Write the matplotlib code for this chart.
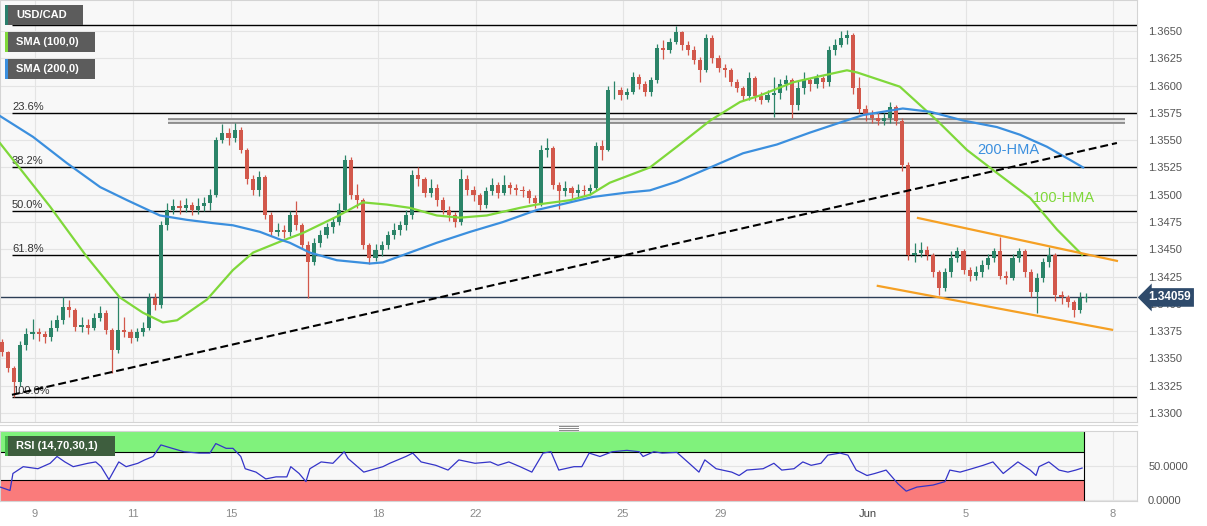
import numpy as np
import matplotlib.pyplot as plt
from matplotlib.patches import Rectangle
from matplotlib.lines import Line2D
from matplotlib.transforms import blended_transform_factory

plt.rcParams['font.family'] = ['Liberation Sans', 'DejaVu Sans']

W, H = 1207, 526

# x axis is in trading days, 0 = May 9 (weekends removed)
first_day = -0.675
candle_step = 0.125  # 3-hour candles
first_open = 1.3365

closes = [1.3356, 1.3341, 1.3328, 1.3362, 1.3372, 1.3374, 1.3372, 1.3370, 1.3378, 1.3385,
          1.3397, 1.3394, 1.3379, 1.3381, 1.3378, 1.3387, 1.3392, 1.3376, 1.3358, 1.3376,
          1.3374, 1.3369, 1.3374, 1.3378, 1.3405, 1.3399, 1.3472, 1.3486, 1.3490, 1.3488,
          1.3491, 1.3486, 1.3490, 1.3492, 1.3500, 1.3550, 1.3557, 1.3552, 1.3559, 1.3541,
          1.3514, 1.3504, 1.3516, 1.3481, 1.3466, 1.3468, 1.3466, 1.3481, 1.3472, 1.3454,
          1.3438, 1.3456, 1.3463, 1.3470, 1.3475, 1.3486, 1.3532, 1.3500, 1.3495, 1.3454,
          1.3442, 1.3449, 1.3454, 1.3463, 1.3468, 1.3472, 1.3481, 1.3518, 1.3514, 1.3502,
          1.3506, 1.3495, 1.3486, 1.3481, 1.3475, 1.3514, 1.3504, 1.3500, 1.3491, 1.3503,
          1.3509, 1.3502, 1.3509, 1.3506, 1.3504, 1.3503, 1.3497, 1.3492, 1.3541, 1.3543,
          1.3509, 1.3503, 1.3506, 1.3502, 1.3504, 1.3503, 1.3506, 1.3545, 1.3541, 1.3596,
          1.3596, 1.3591, 1.3594, 1.3608, 1.3601, 1.3594, 1.3605, 1.3634, 1.3633, 1.3640,
          1.3649, 1.3637, 1.3633, 1.3623, 1.3614, 1.3644, 1.3625, 1.3616, 1.3614, 1.3603,
          1.3598, 1.3590, 1.3607, 1.3590, 1.3587, 1.3591, 1.3593, 1.3601, 1.3605, 1.3582,
          1.3598, 1.3605, 1.3601, 1.3607, 1.3603, 1.3633, 1.3637, 1.3644, 1.3646, 1.3598,
          1.3579, 1.3573, 1.3570, 1.3568, 1.3570, 1.3580, 1.3568, 1.3527, 1.3445, 1.3447,
          1.3449, 1.3445, 1.3429, 1.3415, 1.3429, 1.3442, 1.3448, 1.3431, 1.3426, 1.3429,
          1.3436, 1.3442, 1.3448, 1.3426, 1.3424, 1.3442, 1.3448, 1.3429, 1.3411, 1.3424,
          1.3438, 1.3445, 1.3408, 1.3406, 1.3402, 1.3394, 1.3405, 1.34059]

highs = [1.3368, 1.3357, 1.3343, 1.3366, 1.3378, 1.3386, 1.3378, 1.3375, 1.3385, 1.3390,
         1.3406, 1.3404, 1.3396, 1.3388, 1.3386, 1.3392, 1.3398, 1.3394, 1.3378, 1.3407,
         1.3388, 1.3377, 1.3378, 1.3383, 1.3410, 1.3410, 1.3476, 1.3492, 1.3496, 1.3495,
         1.3497, 1.3493, 1.3497, 1.3498, 1.3505, 1.3553, 1.3565, 1.3561, 1.3566, 1.3562,
         1.3543, 1.3518, 1.3522, 1.3518, 1.3484, 1.3474, 1.3472, 1.3485, 1.3494, 1.3474,
         1.3458, 1.3460, 1.3468, 1.3474, 1.3480, 1.3492, 1.3536, 1.3535, 1.3510, 1.3497,
         1.3456, 1.3455, 1.3458, 1.3467, 1.3474, 1.3476, 1.3486, 1.3523, 1.3525, 1.3516,
         1.3514, 1.3510, 1.3498, 1.3490, 1.3484, 1.3524, 1.3518, 1.3508, 1.3502, 1.3507,
         1.3515, 1.3512, 1.3518, 1.3512, 1.3510, 1.3508, 1.3505, 1.3500, 1.3546, 1.3552,
         1.3545, 1.3512, 1.3513, 1.3508, 1.3510, 1.3509, 1.3510, 1.3548, 1.3550, 1.3600,
         1.3604, 1.3599, 1.3598, 1.3612, 1.3611, 1.3604, 1.3608, 1.3638, 1.3642, 1.3644,
         1.3655, 1.3650, 1.3641, 1.3636, 1.3626, 1.3647, 1.3646, 1.3628, 1.3620, 1.3616,
         1.3606, 1.3600, 1.3612, 1.3609, 1.3594, 1.3596, 1.3608, 1.3606, 1.3610, 1.3607,
         1.3604, 1.3612, 1.3607, 1.3611, 1.3609, 1.3636, 1.3643, 1.3650, 1.3651, 1.3648,
         1.3608, 1.3582, 1.3578, 1.3576, 1.3575, 1.3585, 1.3582, 1.3570, 1.3530, 1.3456,
         1.3457, 1.3453, 1.3447, 1.3431, 1.3433, 1.3448, 1.3452, 1.3450, 1.3434, 1.3435,
         1.3440, 1.3446, 1.3451, 1.3461, 1.3430, 1.3446, 1.3451, 1.3450, 1.3432, 1.3428,
         1.3442, 1.3452, 1.3447, 1.3412, 1.3408, 1.3404, 1.3411, 1.3410]

lows = [1.3352, 1.3338, 1.3315, 1.3325, 1.3358, 1.3368, 1.3366, 1.3364, 1.3366, 1.3375,
        1.3382, 1.3388, 1.3375, 1.3374, 1.3372, 1.3376, 1.3384, 1.3372, 1.3337, 1.3355,
        1.3370, 1.3364, 1.3366, 1.3371, 1.3376, 1.3394, 1.3396, 1.3468, 1.3482, 1.3482,
        1.3484, 1.3481, 1.3482, 1.3485, 1.3486, 1.3498, 1.3547, 1.3546, 1.3548, 1.3538,
        1.3510, 1.3500, 1.3499, 1.3478, 1.3462, 1.3462, 1.3460, 1.3462, 1.3468, 1.3450,
        1.3405, 1.3436, 1.3452, 1.3460, 1.3465, 1.3472, 1.3484, 1.3496, 1.3488, 1.3450,
        1.3437, 1.3439, 1.3444, 1.3450, 1.3459, 1.3463, 1.3468, 1.3478, 1.3508, 1.3498,
        1.3498, 1.3490, 1.3482, 1.3476, 1.3470, 1.3472, 1.3500, 1.3494, 1.3486, 1.3488,
        1.3500, 1.3497, 1.3500, 1.3501, 1.3500, 1.3498, 1.3492, 1.3488, 1.3490, 1.3535,
        1.3505, 1.3487, 1.3499, 1.3497, 1.3498, 1.3499, 1.3500, 1.3504, 1.3532, 1.3540,
        1.3588, 1.3587, 1.3588, 1.3592, 1.3597, 1.3590, 1.3590, 1.3602, 1.3624, 1.3630,
        1.3638, 1.3633, 1.3628, 1.3620, 1.3603, 1.3612, 1.3621, 1.3612, 1.3608, 1.3600,
        1.3594, 1.3586, 1.3587, 1.3586, 1.3583, 1.3585, 1.3571, 1.3588, 1.3596, 1.3570,
        1.3578, 1.3592, 1.3595, 1.3598, 1.3598, 1.3600, 1.3628, 1.3635, 1.3638, 1.3592,
        1.3575, 1.3568, 1.3566, 1.3564, 1.3564, 1.3566, 1.3564, 1.3522, 1.3440, 1.3438,
        1.3443, 1.3440, 1.3425, 1.3408, 1.3412, 1.3425, 1.3438, 1.3427, 1.3421, 1.3422,
        1.3425, 1.3432, 1.3438, 1.3423, 1.3418, 1.3422, 1.3438, 1.3425, 1.3406, 1.3392,
        1.3420, 1.3434, 1.3403, 1.3400, 1.3397, 1.3388, 1.3392, 1.3402]

hma100_days = [-0.71, 0.31, 1.06, 1.73, 2.20, 2.61, 2.90, 3.51, 4.04, 4.45, 5.00, 5.47,
               6.16, 6.69, 7.18, 7.65, 8.20, 8.67, 9.22, 9.90, 10.24, 10.92, 11.33, 11.73,
               12.55, 13.10, 13.78, 14.39, 14.80, 15.47, 15.96, 16.57, 16.78, 17.65, 18.41,
               19.02, 19.63, 20.31, 20.86, 21.37]
hma100 = [1.3547, 1.3489, 1.3443, 1.3406, 1.3392, 1.3383, 1.3385, 1.3404, 1.3431, 1.3447,
          1.3457, 1.3465, 1.3480, 1.3493, 1.3491, 1.3488, 1.3481, 1.3479, 1.3481, 1.3488,
          1.3491, 1.3495, 1.3500, 1.3511, 1.3525, 1.3544, 1.3568, 1.3585, 1.3591, 1.3603,
          1.3608, 1.3614, 1.3612, 1.3599, 1.3568, 1.3541, 1.3520, 1.3497, 1.3468, 1.3445]

hma200_days = [-0.71, -0.04, 0.65, 1.33, 1.88, 2.55, 3.10, 3.63, 4.04, 4.59, 5.00, 5.20,
               5.61, 6.16, 6.84, 7.10, 7.65, 8.20, 8.88, 9.55, 10.24, 10.92, 11.39, 12.08,
               12.55, 13.10, 13.78, 14.45, 15.14, 15.82, 16.49, 16.90, 17.71, 18.27, 18.94,
               19.63, 20.10, 20.65, 21.12, 21.39]
hma200 = [1.3572, 1.3553, 1.3529, 1.3507, 1.3495, 1.3481, 1.3477, 1.3474, 1.3472, 1.3466,
          1.3459, 1.3456, 1.3447, 1.3440, 1.3437, 1.3438, 1.3447, 1.3456, 1.3466, 1.3475,
          1.3486, 1.3493, 1.3498, 1.3502, 1.3504, 1.3512, 1.3525, 1.3538, 1.3546, 1.3557,
          1.3567, 1.3573, 1.3579, 1.3576, 1.3568, 1.3562, 1.3555, 1.3544, 1.3532, 1.3525]

rsi_days = [-0.71, -0.51, -0.45, -0.24, 0.06, 0.31, 0.45, 0.61, 0.78, 1.08, 1.24, 1.35,
            1.51, 1.71, 1.86, 2.10, 2.24, 2.41, 2.57, 2.80, 3.04, 3.35, 3.57, 3.69, 3.90,
            4.04, 4.20, 4.29, 4.51, 4.71, 4.92, 5.14, 5.22, 5.39, 5.53, 5.61, 5.84, 6.08,
            6.31, 6.39, 6.71, 7.10, 7.24, 7.57, 7.71, 7.88, 8.18, 8.43, 8.65, 8.98, 9.29,
            9.45, 9.67, 9.90, 10.14, 10.37, 10.53, 10.69, 11.00, 11.16, 11.31, 11.53, 11.78,
            12.08, 12.33, 12.41, 12.63, 12.80, 13.10, 13.35, 13.55, 13.67, 13.90, 14.22,
            14.37, 14.53, 14.86, 15.08, 15.24, 15.49, 15.67, 15.84, 16.04, 16.18, 16.43,
            16.59, 16.76, 16.98, 17.14, 17.37, 17.61, 17.78, 18.00, 18.33, 18.57, 18.67,
            18.88, 19.12, 19.35, 19.55, 19.76, 20.06, 20.31, 20.43, 20.49, 20.69, 20.90,
            21.08, 21.24, 21.37]
rsi = [19, 14, 39, 49, 46, 54, 64, 56, 49, 54, 56, 49, 30, 56, 49, 54, 59, 64, 81, 76,
       71, 69, 69, 83, 76, 76, 64, 46, 41, 31, 34, 34, 49, 39, 27, 46, 56, 54, 71, 61,
       41, 49, 54, 64, 69, 56, 51, 44, 59, 54, 56, 51, 56, 49, 41, 69, 71, 44, 49, 49,
       69, 64, 71, 73, 71, 64, 71, 69, 70, 54, 41, 59, 46, 41, 36, 44, 46, 54, 44, 46,
       56, 51, 54, 66, 69, 66, 44, 36, 39, 44, 24, 13, 19, 22, 27, 44, 41, 46, 51, 56,
       39, 56, 44, 36, 49, 56, 44, 41, 44, 47]

fib_labels = ['0.0%', '23.6%', '38.2%', '50.0%', '61.8%', '100.0%']
fib_levels = [1.36555, 1.35751, 1.35253, 1.34851, 1.34449, 1.33147]

trend_days = [-0.47, 22.08]
trend_prices = [1.33167, 1.35474]
channel_top_days = [18.02, 22.08]
channel_top = [1.34787, 1.34394]
channel_bottom_days = [17.20, 21.98]
channel_bottom = [1.34165, 1.33763]
resistance_days = [2.71, 22.24]
resistance = 1.35671
last_price = 1.34059

tick_days = [0, 2, 4, 7, 9, 12, 14, 17, 19, 22]
tick_labels = ['9', '11', '15', '18', '22', '25', '29', 'Jun', '5', '8']
price_ticks = [1.3300, 1.3325, 1.3350, 1.3375, 1.3400, 1.3425, 1.3450, 1.3475,
               1.3500, 1.3525, 1.3550, 1.3575, 1.3600, 1.3625, 1.3650]

GREEN = '#2b8468'
RED = '#d2584b'
LIME = '#7fd83a'
BLUE = '#3b8fde'
XMIN, XMAX = -0.714, 22.49

fig = plt.figure(figsize=(W / 100, H / 100), dpi=100)
ax = fig.add_axes([0, 104 / H, 1137 / W, 422 / H])
rsi_ax = fig.add_axes([0, 25 / H, 1137 / W, 70 / H])

for a in (ax, rsi_ax):
    a.set_facecolor('#f8f8f8')
    a.set_xlim(XMIN, XMAX)
    a.set_xticks(tick_days)
    a.grid(True, color='#e4e4e4', lw=0.8)
    a.set_axisbelow(True)
    for s in a.spines.values():
        s.set_color('#d4d4d4')
        s.set_linewidth(0.8)
    a.yaxis.tick_right()
    a.tick_params(axis='y', length=0, pad=8, labelsize=8, labelcolor='#555555')
    a.tick_params(axis='x', length=0)

# --- main price panel ---
ax.set_ylim(1.32918, 1.36784)
ax.set_yticks(price_ticks)
ax.set_yticklabels([f'{p:.4f}' for p in price_ticks])
ax.tick_params(axis='x', labelbottom=False)

c = np.array(closes)
o = np.r_[first_open, c[:-1]]
hi = np.maximum(np.array(highs), np.maximum(o, c))
lo = np.minimum(np.array(lows), np.minimum(o, c))
x = first_day + candle_step * np.arange(len(c))
cols = np.where(c >= o, GREEN, RED)
ax.vlines(x, lo, hi, colors=cols, lw=0.9, zorder=3)
ax.bar(x, np.maximum(np.abs(c - o), 0.00004), bottom=np.minimum(o, c),
       width=0.085, color=cols, zorder=3)

ax.hlines(fib_levels, -0.47, XMAX, color='black', lw=1, zorder=2)
for lab, lev in zip(fib_labels, fib_levels):
    ax.text(-0.47, lev + 0.00008, lab, fontsize=8, color='#333333', va='bottom', zorder=2)

ax.hlines(resistance, *resistance_days, color='#8e8e8e', lw=4.2, zorder=2)
ax.hlines(resistance, *resistance_days, color='#f2f2f2', lw=1.2, zorder=2)

ax.axhline(last_price, color='#2c3e56', lw=1, zorder=2)

ax.plot(hma100_days, hma100, color=LIME, lw=1.6, zorder=4)
ax.plot(hma200_days, hma200, color=BLUE, lw=1.6, zorder=4)
ax.plot(trend_days, trend_prices, color='black', lw=1.5, dashes=(3.8, 1.9), zorder=4)
ax.plot(channel_top_days, channel_top, color='#f5a024', lw=1.6, zorder=4)
ax.plot(channel_bottom_days, channel_bottom, color='#f5a024', lw=1.6, zorder=4)

ax.text(19.86, 1.35410, '200-HMA', color=BLUE, fontsize=10.5, ha='center', va='center')
ax.text(21.00, 1.34970, '100-HMA', color=LIME, fontsize=10.5, ha='center', va='center')

trans = blended_transform_factory(ax.transAxes, ax.transData)
ax.text(1 + 11 / 1137, last_price, '1.34059', transform=trans, color='white',
        fontsize=8.5, fontweight='bold', va='center', ha='left', clip_on=False, zorder=6,
        bbox=dict(boxstyle='larrow,pad=0.28', fc='#2e4a6b', ec='none'))

# --- RSI panel ---
rsi_ax.set_ylim(-1.5, 101.5)
rsi_ax.set_yticks([0, 50])
rsi_ax.set_yticklabels(['0.0000', '50.0000'])
rsi_ax.set_xticklabels(tick_labels)
rsi_ax.tick_params(axis='x', labelsize=8, labelcolor='#8a8a8a', pad=6)
for t in rsi_ax.get_xticklabels():
    if t.get_text() == 'Jun':
        t.set_color('#444444')

band_end = 21.41
rsi_ax.add_patch(Rectangle((XMIN, 70), band_end - XMIN, 32, fc='#80f27c', ec='none', zorder=1))
rsi_ax.add_patch(Rectangle((XMIN, -2), band_end - XMIN, 32, fc='#fa7b7b', ec='none', zorder=1))
rsi_ax.hlines([70, 30], XMIN, band_end, color='black', lw=0.8, zorder=2)
rsi_ax.vlines(band_end, -2, 102, color='black', lw=0.8, zorder=2)
rsi_ax.plot(rsi_days, rsi, color='#3434c8', lw=0.9, zorder=3)

# --- separator and legend boxes ---
fig.add_artist(Line2D([0, 1137 / W], [1 - 425 / H] * 2, color='#d8d8d8', lw=0.8))
for yy in (425.5, 427.5, 429.5):
    fig.add_artist(Line2D([559 / W, 578 / W], [1 - yy / H] * 2, color='#8a8a8a', lw=0.7))


def legend_box(x0, y0, w, h, text, fc, strip):
    fig.add_artist(Rectangle((x0 / W, 1 - (y0 + h) / H), w / W, h / H,
                             transform=fig.transFigure, fc=fc, ec='none'))
    fig.add_artist(Rectangle((x0 / W, 1 - (y0 + h) / H), 3 / W, h / H,
                             transform=fig.transFigure, fc=strip, ec='none'))
    fig.text((x0 + 11) / W, 1 - (y0 + h / 2) / H, text, color='white', fontsize=8,
             fontweight='bold', va='center')


legend_box(5, 5, 78, 20, 'USD/CAD', '#5c5c5c', '#2a7f6c')
legend_box(5, 32, 90, 20, 'SMA (100,0)', '#5c5c5c', LIME)
legend_box(5, 59, 90, 20, 'SMA (200,0)', '#5c5c5c', BLUE)
legend_box(5, 436, 110, 20, 'RSI (14,70,30,1)', '#3e5e3e', '#45b84a')

plt.savefig('out.png', dpi=100)
plt.close()
